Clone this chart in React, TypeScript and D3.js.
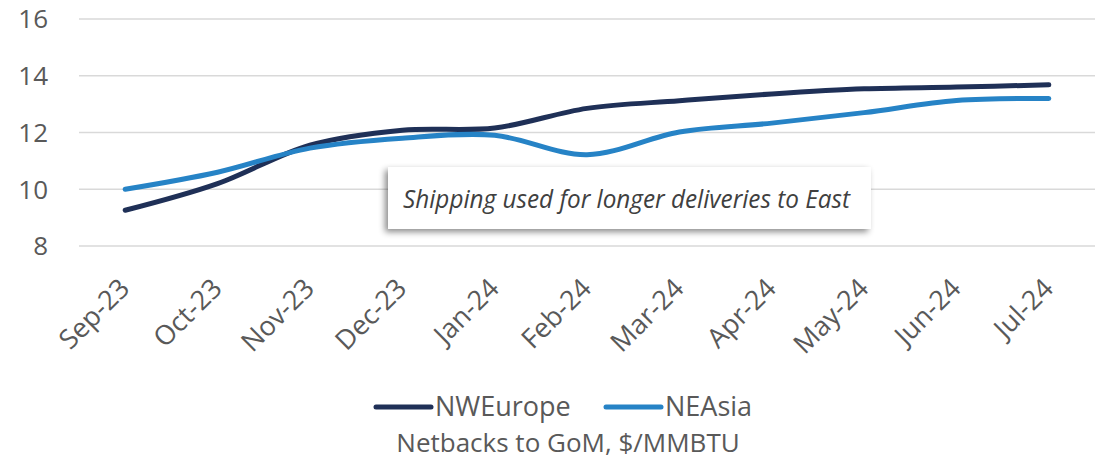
import { useEffect, useRef } from 'react';
import * as d3 from 'd3';

const months = ['Sep-23', 'Oct-23', 'Nov-23', 'Dec-23', 'Jan-24', 'Feb-24', 'Mar-24', 'Apr-24', 'May-24', 'Jun-24', 'Jul-24'];
const nwEurope = [9.26, 10.2, 11.55, 12.08, 12.16, 12.85, 13.12, 13.36, 13.54, 13.6, 13.68];
const neAsia = [10.0, 10.6, 11.45, 11.8, 11.9, 11.22, 12.02, 12.33, 12.7, 13.13, 13.2];
const yTicks = [8, 10, 12, 14, 16];
const seriesNames = ['NWEurope', 'NEAsia'];
const seriesColors = ['#1f3057', '#2683c6'];
const note = 'Shipping used for longer deliveries to East';
const axisTitle = 'Netbacks to GoM, $/MMBTU';

const W = 1099;
const H = 460;
const FONT = '"Open Sans", sans-serif';

export default function App() {
  const svgRef = useRef<SVGSVGElement>(null);

  useEffect(() => {
    if (!svgRef.current) return;
    const svg = d3.select(svgRef.current);
    svg.selectAll('*').remove();

    const x = d3.scaleBand<string>().domain(months).range([79, 1095]);
    const y = d3.scaleLinear().domain([8, 16]).range([246, 19]);
    const cx = (m: string) => (x(m) ?? 0) + x.bandwidth() / 2;

    // drop shadow for the note box
    const defs = svg.append('defs');
    const f = defs.append('filter').attr('id', 'shadow')
      .attr('x', '-10%').attr('y', '-30%').attr('width', '120%').attr('height', '170%');
    f.append('feDropShadow')
      .attr('dx', -3).attr('dy', 3).attr('stdDeviation', 3)
      .attr('flood-color', '#000').attr('flood-opacity', 0.45);

    // gridlines
    svg.append('g').selectAll('line')
      .data(yTicks)
      .enter()
      .append('line')
      .attr('x1', 79).attr('x2', 1095)
      .attr('y1', (d) => y(d)).attr('y2', (d) => y(d))
      .attr('stroke', '#d9d9d9').attr('stroke-width', 1.5);

    // y labels
    svg.append('g').selectAll('text')
      .data(yTicks)
      .enter()
      .append('text')
      .attr('x', 48)
      .attr('y', (d) => y(d))
      .attr('dy', '0.36em')
      .attr('text-anchor', 'end')
      .style('font-family', FONT)
      .style('font-size', '26px')
      .style('fill', '#595959')
      .text((d) => d);

    // x labels
    svg.append('g').selectAll('text')
      .data(months)
      .enter()
      .append('text')
      .attr('transform', (d) => `translate(${cx(d) + 6},${290}) rotate(-45)`)
      .attr('text-anchor', 'end')
      .style('font-family', FONT)
      .style('font-size', '27px')
      .style('fill', '#595959')
      .text((d) => d);

    // lines
    const line = d3.line<number>()
      .x((_, i) => cx(months[i]))
      .y((d) => y(d))
      .curve(d3.curveCatmullRom.alpha(0.5));

    [nwEurope, neAsia].forEach((vals, i) => {
      svg.append('path')
        .attr('d', line(vals))
        .attr('fill', 'none')
        .attr('stroke', seriesColors[i])
        .attr('stroke-width', 5)
        .attr('stroke-linecap', 'round')
        .attr('stroke-linejoin', 'round');
    });

    // note box
    const noteG = svg.append('g');
    noteG.append('rect')
      .attr('x', 388).attr('y', 167).attr('width', 483).attr('height', 62)
      .attr('fill', '#fff')
      .attr('filter', 'url(#shadow)');
    noteG.append('text')
      .attr('x', 403).attr('y', 208)
      .attr('textLength', 447)
      .attr('lengthAdjust', 'spacingAndGlyphs')
      .style('font-family', FONT)
      .style('font-style', 'italic')
      .style('font-size', '26px')
      .style('fill', '#404040')
      .text(note);

    // legend
    const legendX = [376, 606];
    const legend = svg.append('g');
    seriesNames.forEach((name, i) => {
      legend.append('line')
        .attr('x1', legendX[i]).attr('x2', legendX[i] + 55)
        .attr('y1', 407).attr('y2', 407)
        .attr('stroke', seriesColors[i])
        .attr('stroke-width', 5)
        .attr('stroke-linecap', 'round');
      legend.append('text')
        .attr('x', legendX[i] + 59).attr('y', 416)
        .style('font-family', FONT)
        .style('font-size', '27px')
        .style('fill', '#595959')
        .text(name);
    });

    svg.append('text')
      .attr('x', 568).attr('y', 452)
      .attr('text-anchor', 'middle')
      .style('font-family', FONT)
      .style('font-size', '26px')
      .style('fill', '#595959')
      .text(axisTitle);
  }, []);

  return (
    <div style={{ position: 'absolute', left: 0, top: 0 }}>
      <svg ref={svgRef} width={W} height={H} style={{ background: '#fff', display: 'block' }} />
    </div>
  );
}
